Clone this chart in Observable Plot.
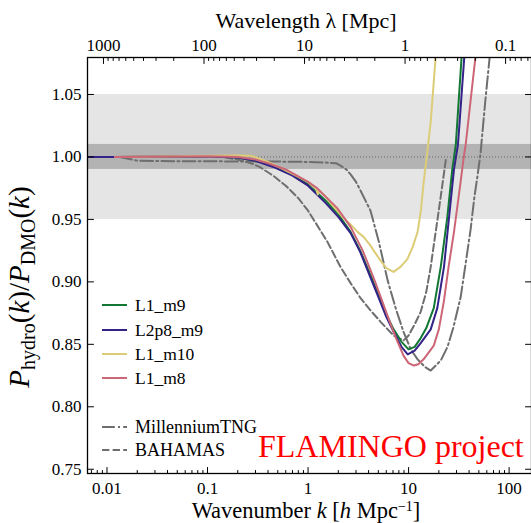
<!DOCTYPE html>
<html><head><meta charset="utf-8">
<script src="https://cdn.jsdelivr.net/npm/d3@7"></script>
<script src="https://cdn.jsdelivr.net/npm/@observablehq/plot@0.6"></script>
<style>
body{margin:0;background:#fff;}
#chart{position:relative;width:531px;height:523px;}
svg{font-family:"Liberation Serif",serif;}
</style>
</head><body><div id="chart"></div>
<script>
// ---------- data ----------
const seriesNames = ["L1_m9", "L2p8_m9", "L1_m10", "L1_m8", "MillenniumTNG", "BAHAMAS"];
const seriesColors = ["#117733", "#332288", "#DDCC77", "#CC6677", "#6e6e6e", "#6e6e6e"];

const L1_m9 = [[0.012,1.0],[0.03,1.0002],[0.06,1.0004],[0.1,1.0005],[0.15,1.0003],[0.2,0.9995],[0.3,0.997],[0.45,0.993],[0.7,0.986],[1.0,0.978],[1.5,0.965],[2.0,0.954],[2.65,0.940],[3.3,0.925],[4.2,0.905],[5.0,0.890],[6.0,0.874],[7.1,0.862],[8.5,0.852],[10,0.846],[11.5,0.848],[13.2,0.855],[15,0.863],[17.8,0.879],[20.9,0.912],[24.3,0.952],[27.2,0.990],[29.5,1.010],[34,1.085]];
const L2p8_m9 = [[0.0064,1.0],[0.012,1.0],[0.05,1.0003],[0.1,1.0005],[0.2,0.9995],[0.3,0.997],[0.45,0.992],[0.7,0.985],[1.0,0.977],[1.5,0.963],[2.0,0.952],[2.65,0.939],[3.3,0.924],[4.2,0.903],[5.0,0.888],[6.0,0.872],[7.1,0.860],[8.5,0.848],[9.8,0.842],[11.5,0.845],[13.2,0.851],[16.6,0.862],[19.3,0.879],[22.5,0.912],[25,0.948],[28.3,0.990],[31,1.010],[36.2,1.085]];
const L1_m10 = [[0.012,1.0],[0.05,1.0005],[0.1,1.001],[0.2,1.0012],[0.27,1.001],[0.4,0.996],[0.57,0.990],[0.8,0.984],[1.0,0.980],[1.14,0.976],[1.2,0.975],[1.25,0.970],[1.3,0.973],[1.5,0.968],[1.8,0.960],[2.2,0.952],[2.65,0.946],[3.1,0.940],[3.57,0.936],[4.18,0.929],[4.5,0.925],[5.27,0.917],[6.0,0.911],[7.1,0.908],[8.3,0.912],[9.7,0.918],[11,0.928],[12.3,0.940],[13.3,0.958],[14.1,0.979],[15.3,1.003],[16.6,1.028],[18.8,1.085]];
const L1_m8 = [[0.012,1.0],[0.05,1.0004],[0.1,1.0006],[0.2,1.0],[0.3,0.998],[0.4,0.995],[0.6,0.990],[1.0,0.980],[1.23,0.975],[1.95,0.959],[2.65,0.944],[3.5,0.925],[4.5,0.903],[5.5,0.884],[6.5,0.868],[7.5,0.855],[8.9,0.841],[10,0.835],[11.3,0.833],[12.5,0.834],[14.1,0.838],[17.8,0.849],[20,0.862],[22.5,0.885],[25,0.912],[28.3,0.940],[32.8,0.979],[35,0.997],[37,1.010],[47,1.085]];
const MillenniumTNG = [[0.0133,1.0],[0.02,0.997],[0.05,0.9965],[0.1,0.9965],[0.5,0.9963],[1.0,0.996],[1.5,0.9955],[1.9,0.995],[2.1,0.993],[2.4,0.990],[2.65,0.986],[3.0,0.980],[3.33,0.973],[4.18,0.957],[5.03,0.933],[6.2,0.901],[7.5,0.878],[8.9,0.860],[10.5,0.846],[12.3,0.838],[14.5,0.832],[16.6,0.829],[20.9,0.837],[24.4,0.848],[28,0.864],[33,0.888],[37,0.915],[41.4,0.942],[45,0.967],[48.5,0.985],[52,1.003],[58,1.045],[65,1.085]];
const BAHAMAS = [[0.15,0.9995],[0.2,0.998],[0.27,0.995],[0.33,0.992],[0.45,0.985],[0.6,0.977],[0.8,0.967],[1.0,0.957],[1.33,0.941],[1.56,0.932],[2.1,0.912],[2.65,0.899],[3.33,0.887],[4.2,0.877],[5.27,0.868],[6.2,0.862],[7.1,0.857],[8.9,0.853],[10,0.857],[11.5,0.866],[13.2,0.876],[15,0.892],[16.6,0.912],[18,0.932],[19.4,0.950],[21.8,0.979],[23.5,0.998]];

const bandOuter = [[0.95, 1.05]];
const bandInner = [[0.99, 1.01]];
const unityLine = [1.0];

const kMajor = [0.01, 0.1, 1, 10, 100];
const kMajorLabels = ["0.01", "0.1", "1", "10", "100"];
const lambdaMajor = [1000, 100, 10, 1, 0.1];
const lambdaMajorLabels = ["1000", "100", "10", "1", "0.1"];
const yTicks = [0.75, 0.80, 0.85, 0.90, 0.95, 1.00, 1.05];
const yTickLabels = ["0.75", "0.80", "0.85", "0.90", "0.95", "1.00", "1.05"];
const hubble = 0.681;

// ---------- scales / helpers ----------
const xDomain = [0.0064, 167];
const yDomain = [0.7466, 1.0796];
const kOfLambda = lam => 2 * Math.PI / (hubble * lam);
const minorsIn = (lo, hi) => {
  const out = [];
  for (let e = -3; e <= 4; e++) for (let m = 2; m <= 9; m++) {
    const v = m * Math.pow(10, e);
    if (v > lo && v < hi) out.push(v);
  }
  return out;
};
const kMinor = minorsIn(xDomain[0], xDomain[1]);
const lamLo = 2 * Math.PI / (hubble * xDomain[1]), lamHi = 2 * Math.PI / (hubble * xDomain[0]);
const lambdaMinor = minorsIn(lamLo, lamHi);

const tickShape = {draw(ctx, l) { ctx.moveTo(0, 0); ctx.lineTo(0, -l); }};
const tk = (o) => ({shape: tickShape, anchor: "start", stroke: "black", strokeWidth: 1, ...o});

const lineOf = (arr, color, extra) => Plot.line(arr, {x: d => d[0], y: d => d[1], stroke: color, strokeWidth: 2, clip: true, curve: "linear", ...extra});

const plot = Plot.plot({
  width: 531, height: 523,
  marginLeft: 87, marginRight: 0, marginTop: 57, marginBottom: 50,
  x: {type: "log", domain: xDomain, axis: null},
  y: {domain: yDomain, axis: null},
  style: {fontFamily: "Liberation Serif", fontSize: "17px", color: "black", background: "white"},
  marks: [
    Plot.rect(bandOuter, {y1: d => d[0], y2: d => d[1], fill: "#e5e5e5"}),
    Plot.rect(bandInner, {y1: d => d[0], y2: d => d[1], fill: "#b3b3b3"}),
    Plot.ruleY(unityLine, {stroke: "#666", strokeWidth: 1, strokeDasharray: "1,2"}),
    lineOf(BAHAMAS, seriesColors[5], {strokeDasharray: "7.4,3.2"}),
    lineOf(MillenniumTNG, seriesColors[4], {strokeDasharray: "12.8,3.2,2,3.2"}),
    lineOf(L1_m9, seriesColors[0]),
    lineOf(L2p8_m9, seriesColors[1]),
    lineOf(L1_m10, seriesColors[2]),
    lineOf(L1_m8, seriesColors[3]),
    Plot.frame({stroke: "black", strokeWidth: 1.3}),
    // bottom ticks (inward)
    Plot.vector(kMajor, tk({x: d => d, frameAnchor: "bottom", length: 6, rotate: 0})),
    Plot.vector(kMinor, tk({x: d => d, frameAnchor: "bottom", length: 3, rotate: 0})),
    // top ticks (wavelength)
    Plot.vector(lambdaMajor, tk({x: d => kOfLambda(d), frameAnchor: "top", length: 6, rotate: 180})),
    Plot.vector(lambdaMinor, tk({x: d => kOfLambda(d), frameAnchor: "top", length: 3, rotate: 180})),
    // left / right ticks
    Plot.vector(yTicks, tk({y: d => d, frameAnchor: "left", length: 6, rotate: 90})),
    Plot.vector(yTicks, tk({y: d => d, frameAnchor: "right", length: 6, rotate: -90})),
    // tick labels
    Plot.text(kMajor, {x: d => d, text: (d, i) => kMajorLabels[i], frameAnchor: "bottom", lineAnchor: "top", dy: 8, fontSize: 17}),
    Plot.text(lambdaMajor, {x: d => kOfLambda(d), text: (d, i) => lambdaMajorLabels[i], frameAnchor: "top", lineAnchor: "bottom", dy: -7, fontSize: 17}),
    Plot.text(yTicks, {y: d => d, text: (d, i) => yTickLabels[i], frameAnchor: "left", textAnchor: "end", dx: -6, fontSize: 17})
  ]
});
document.getElementById("chart").appendChild(plot);

// ---------- titles, legend, annotation ----------
const svg = d3.select(plot);
svg.append("text").attr("x", 306).attr("y", 28).attr("text-anchor", "middle")
  .attr("font-size", 22).attr("fill", "black").text("Wavelength λ [Mpc]");

const bx = svg.append("text").attr("x", 306).attr("y", 518).attr("text-anchor", "middle")
  .attr("font-size", 22.5).attr("fill", "black");
bx.append("tspan").text("Wavenumber ");
bx.append("tspan").attr("font-style", "italic").text("k");
bx.append("tspan").text(" [");
bx.append("tspan").attr("font-style", "italic").text("h");
bx.append("tspan").text(" Mpc");
bx.append("tspan").attr("font-size", 14).attr("dy", -7).text("−1");
bx.append("tspan").attr("dy", 7).text("]");

const yl = svg.append("text").attr("transform", "translate(29,287) rotate(-90)")
  .attr("text-anchor", "middle").attr("font-size", 29).attr("fill", "black");
yl.append("tspan").attr("font-style", "italic").text("P");
yl.append("tspan").attr("font-size", 20).attr("dy", 6).text("hydro");
yl.append("tspan").attr("dy", -6).text("(");
yl.append("tspan").attr("font-style", "italic").text("k");
yl.append("tspan").text(")/");
yl.append("tspan").attr("font-style", "italic").text("P");
yl.append("tspan").attr("font-size", 20).attr("dy", 6).text("DMO");
yl.append("tspan").attr("dy", -6).text("(");
yl.append("tspan").attr("font-style", "italic").text("k");
yl.append("tspan").text(")");

const legendRows = [
  {name: seriesNames[0], color: seriesColors[0], dash: null, y: 305, fs: 17.5},
  {name: seriesNames[1], color: seriesColors[1], dash: null, y: 330, fs: 17.5},
  {name: seriesNames[2], color: seriesColors[2], dash: null, y: 354, fs: 17.5},
  {name: seriesNames[3], color: seriesColors[3], dash: null, y: 378, fs: 17.5},
  {name: seriesNames[4], color: seriesColors[4], dash: "12.8,3.2,2,3.2", y: 427, fs: 18},
  {name: seriesNames[5], color: seriesColors[5], dash: "7.4,3.2", y: 450, fs: 18}
];
const lg = svg.append("g");
legendRows.forEach(r => {
  lg.append("line").attr("x1", 102).attr("x2", 127).attr("y1", r.y).attr("y2", r.y)
    .attr("stroke", r.color).attr("stroke-width", 2).attr("stroke-dasharray", r.dash);
  lg.append("text").attr("x", 135).attr("y", r.y).attr("dy", "0.33em").attr("text-anchor", "start")
    .attr("font-size", r.fs).attr("fill", "black").text(r.name);
});

svg.append("text").attr("x", 258).attr("y", 457).attr("font-size", 32).attr("text-anchor", "start")
  .attr("fill", "#ff0000").text("FLAMINGO project");
</script>
</body></html>
